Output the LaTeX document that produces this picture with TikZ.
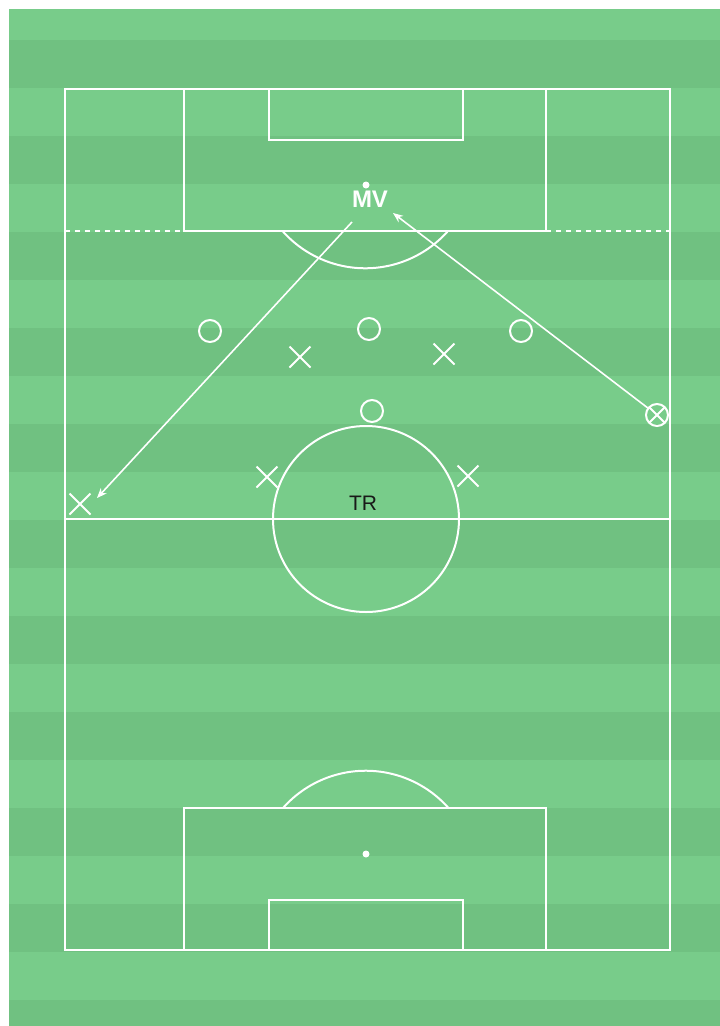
\documentclass[tikz,border=0pt]{standalone}
\usepackage{fontspec}
\setmainfont{Liberation Sans}
\usetikzlibrary{arrows.meta,shapes.misc}

\definecolor{pitchlight}{RGB}{120,204,138}
\definecolor{pitchdark}{RGB}{112,193,129}

\tikzset{
  pitchline/.style={white, line width=2pt},
  halfway/.style={white, line width=1.8pt, dash pattern=on 5pt off 5pt},
  defender/.style={draw=white, line width=2pt, circle, minimum size=22pt, inner sep=0pt, outer sep=0pt},
  attacker/.style={draw=white, line width=2pt, cross out, minimum size=21pt, inner sep=0pt, outer sep=0pt},
  pass/.style={white, line width=1.6pt, -{Stealth[length=10pt,width=8pt]}},
}

\begin{document}
\begin{tikzpicture}[x=1pt,y=-1pt]
            \useasboundingbox (0,0) rectangle (720,1026);
            \fill[pitchlight] (9,9) rectangle (720,1026);
            \foreach \y in {40,136,...,1000}
                \fill[pitchdark] (9,\y) rectangle (720,{min(\y+48,1026)});

            \draw[pitchline] (65,89) rectangle (670,950);
            \draw[pitchline] (65,519) -- (670,519);
            \draw[pitchline] (366,519) circle[radius=93];

            \draw[pitchline] (184,89) |- (546,231) -- (546,89);
            \draw[pitchline] (269,89) |- (463,140) -- (463,89);
            \draw[pitchline] (448,231) arc[start angle=41.5, end angle=138.5, radius=110.5];
            \fill[white] (366,185) circle[radius=3.5];
            \draw[halfway] (65,231) -- (184,231);
            \draw[halfway] (546,231) -- (670,231);

            \draw[pitchline] (184,950) |- (546,808) -- (546,950);
            \draw[pitchline] (269,950) |- (463,900) -- (463,950);
            \draw[pitchline] (283,808) arc[start angle=-138.5, end angle=-41.5, radius=110.5];
            \fill[white] (366,854) circle[radius=3.5];

            \node[text=white, font=\bfseries\fontsize{24}{24}\selectfont] (mv) at (370,199) {MV};
            \node[text=black!90, font=\fontsize{21}{21}\selectfont] (tr) at (363,503) {TR};

            \node[defender] (o1) at (210,331) {};
            \node[defender] (o2) at (369,329) {};
            \node[defender] (o3) at (521,331) {};
            \node[defender] (o4) at (372,411) {};

            \node[attacker] (x1) at (300,357) {};
            \node[attacker] (x2) at (444,354) {};
            \node[attacker] (x3) at (267,477) {};
            \node[attacker] (x4) at (468,476) {};
            \node[attacker] (x5) at (80,504) {};

            \node[defender] (cx) at (657,415) {};
            \draw[pitchline] (cx.45) -- (cx.225) (cx.135) -- (cx.315);

            \coordinate (mvfoot) at (352,222);
            \coordinate (wingend) at (97,498);
            \coordinate (mvside) at (393,213);
            \draw[pass] (mvfoot) -- (wingend);
            \draw[pass] (cx) -- (mvside);
        \end{tikzpicture}
\end{document}
